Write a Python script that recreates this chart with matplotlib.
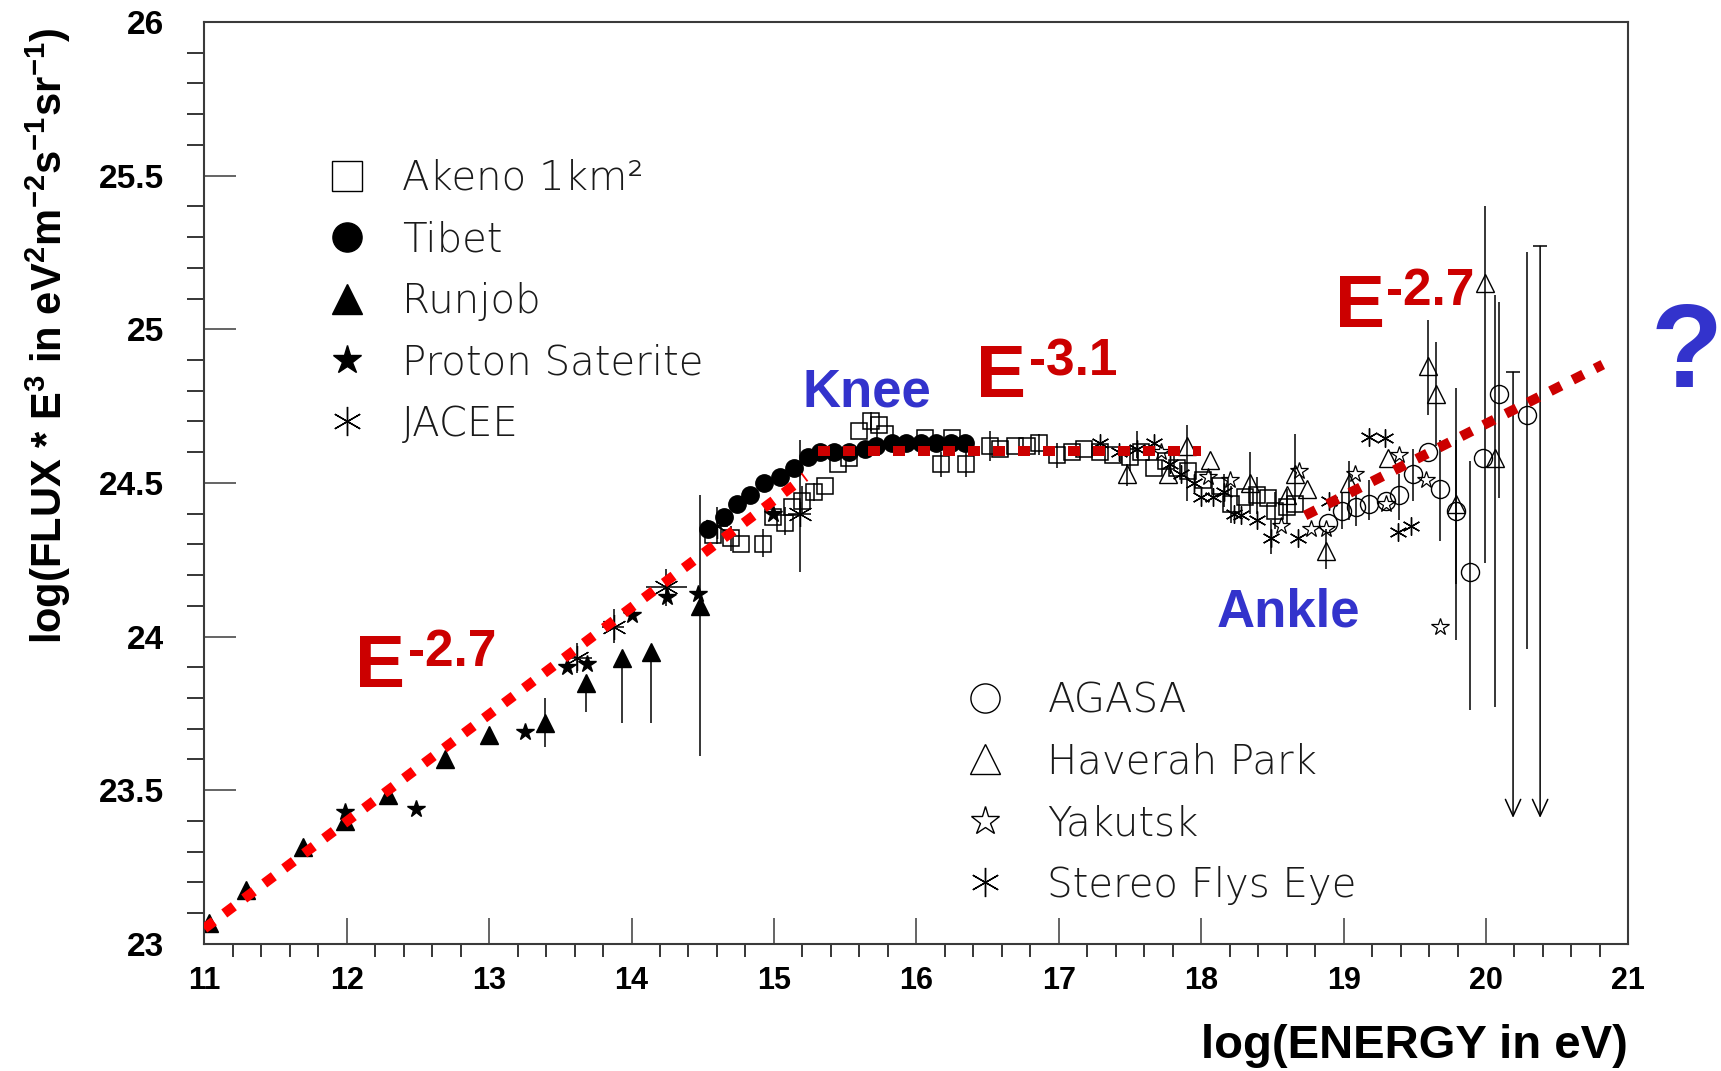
import numpy as np
import matplotlib
matplotlib.use("Agg")
import matplotlib.pyplot as plt
from matplotlib.ticker import MultipleLocator

plt.rcParams['font.family'] = ['Liberation Sans', 'DejaVu Sans']
plt.rcParams['mathtext.fontset'] = 'custom'
plt.rcParams['mathtext.rm'] = 'Liberation Sans:bold'
plt.rcParams['mathtext.it'] = 'Liberation Sans:bold'
plt.rcParams['mathtext.bf'] = 'Liberation Sans:bold'
plt.rcParams['mathtext.default'] = 'rm'

# ---- measurements: log10(E/eV), log10(flux * E^3) ----
akeno_x = [14.57, 14.70, 14.77, 14.92, 14.99, 15.08, 15.13, 15.20, 15.28, 15.36, 15.45, 15.53,
           15.60, 15.68, 15.74, 15.78, 16.06, 16.17, 16.25, 16.35, 16.52, 16.59, 16.69, 16.78,
           16.86, 16.99, 17.09, 17.18, 17.29, 17.38, 17.50, 17.58, 17.67, 17.75, 17.83, 17.91,
           18.01, 18.13, 18.21, 18.31, 18.39, 18.47, 18.52, 18.60, 18.66]
akeno_y = [24.33, 24.32, 24.30, 24.30, 24.39, 24.37, 24.42, 24.44, 24.47, 24.49, 24.56, 24.58,
           24.67, 24.70, 24.69, 24.66, 24.645, 24.56, 24.645, 24.56, 24.62, 24.61, 24.62, 24.62,
           24.63, 24.59, 24.60, 24.61, 24.60, 24.59, 24.585, 24.60, 24.55, 24.57, 24.55, 24.54,
           24.51, 24.49, 24.43, 24.455, 24.46, 24.45, 24.41, 24.42, 24.43]
akeno_err_x = [14.70, 14.92, 15.08, 15.20, 15.28, 15.68, 16.17, 16.35, 16.52, 16.86, 16.99,
               17.50, 18.21, 18.39, 18.52, 18.60]
akeno_err_lo = [24.28, 24.26, 24.33, 24.40, 24.44, 24.67, 24.52, 24.52, 24.57, 24.59, 24.55,
                24.54, 24.37, 24.40, 24.35, 24.37]
akeno_err_hi = [24.36, 24.35, 24.42, 24.49, 24.50, 24.73, 24.60, 24.61, 24.67, 24.66, 24.63,
                24.62, 24.49, 24.52, 24.47, 24.48]

tibet_x = [14.54, 14.65, 14.74, 14.83, 14.93, 15.04, 15.14, 15.24, 15.32, 15.42, 15.53, 15.64,
           15.72, 15.83, 15.93, 16.03, 16.14, 16.24, 16.34]
tibet_y = [24.35, 24.39, 24.43, 24.46, 24.50, 24.52, 24.55, 24.585, 24.60, 24.60, 24.60, 24.61,
           24.62, 24.63, 24.63, 24.63, 24.63, 24.63, 24.63]

runjob_x = [11.03, 11.29, 11.69, 11.99, 12.29, 12.69, 13.00, 13.395, 13.68, 13.93, 14.14, 14.48]
runjob_y = [23.067, 23.175, 23.316, 23.40, 23.485, 23.60, 23.68, 23.72, 23.848, 23.93, 23.95, 24.10]
runjob_err_x = [13.395, 13.68, 13.93, 14.14, 14.48]
runjob_err_lo = [23.64, 23.756, 23.72, 23.72, 23.61]
runjob_err_hi = [23.80, 23.86, 23.95, 23.96, 24.46]

proton_x = [11.99, 12.49, 13.25, 13.55, 13.69, 14.00, 14.25, 14.47, 14.99]
proton_y = [23.43, 23.44, 23.69, 23.90, 23.91, 24.07, 24.13, 24.14, 24.40]

jacee_x = [13.62, 13.88, 14.24, 14.60, 15.18]
jacee_y = [23.93, 24.03, 24.16, 24.36, 24.40]
jacee_xlo = [13.55, 13.79, 14.10, 14.52, 15.10]
jacee_xhi = [13.72, 13.95, 14.39, 14.68, 15.26]
jacee_ylo = [23.88, 23.98, 24.10, 24.30, 24.21]
jacee_yhi = [23.98, 24.09, 24.22, 24.42, 24.64]

agasa_x = [18.89, 18.99, 19.09, 19.18, 19.30, 19.39, 19.49, 19.59, 19.68, 19.79, 19.89, 19.98,
           20.09, 20.29]
agasa_y = [24.37, 24.41, 24.42, 24.43, 24.44, 24.46, 24.53, 24.60, 24.48, 24.41, 24.21, 24.58,
           24.79, 24.72]
agasa_err_x = [18.99, 19.09, 19.18, 19.39, 19.49, 19.68, 19.79, 19.89, 20.09, 20.29]
agasa_err_lo = [24.35, 24.36, 24.38, 24.38, 24.44, 24.31, 24.17, 23.76, 24.45, 23.96]
agasa_err_hi = [24.47, 24.49, 24.51, 24.53, 24.61, 24.64, 24.64, 24.57, 25.09, 25.25]

haverah_x = [17.48, 17.77, 17.90, 18.06, 18.34, 18.60, 18.66, 18.74, 18.88, 19.04, 19.31, 19.59,
             19.65, 19.79, 19.99, 20.06]
haverah_y = [24.53, 24.53, 24.62, 24.575, 24.50, 24.46, 24.53, 24.48, 24.28, 24.50, 24.58, 24.88,
             24.79, 24.43, 25.15, 24.58]
haverah_err_x = [17.48, 17.90, 18.34, 18.66, 18.88, 19.04, 19.59, 19.65, 19.79, 19.99, 20.06]
haverah_err_lo = [24.49, 24.44, 24.40, 24.43, 24.22, 24.38, 24.72, 24.62, 23.99, 24.24, 23.77]
haverah_err_hi = [24.56, 24.69, 24.60, 24.66, 24.35, 24.57, 25.03, 24.96, 24.81, 25.40, 25.11]

# upper limits (arrows)
ul_x = [20.19, 20.38]
ul_top = [24.86, 25.27]
ul_bottom = [23.41, 23.41]

yakutsk_x = [17.72, 18.05, 18.20, 18.56, 18.69, 18.77, 18.88, 19.08, 19.30, 19.39, 19.58, 19.68]
yakutsk_y = [24.60, 24.52, 24.51, 24.36, 24.54, 24.35, 24.35, 24.53, 24.43, 24.59, 24.51, 24.03]

flyseye_x = [17.29, 17.42, 17.55, 17.67, 17.78, 17.86, 17.95, 18.00, 18.08, 18.16, 18.23, 18.28,
             18.39, 18.49, 18.68, 18.90, 19.18, 19.29, 19.38, 19.47]
flyseye_y = [24.63, 24.60, 24.61, 24.63, 24.56, 24.53, 24.50, 24.455, 24.455, 24.47, 24.40, 24.395,
             24.38, 24.32, 24.32, 24.44, 24.65, 24.645, 24.34, 24.36]
flyseye_err_x = [17.55, 18.16, 18.49]
flyseye_err_lo = [24.58, 24.42, 24.27]
flyseye_err_hi = [24.67, 24.53, 24.38]

# spectral index guides
line1_x = [11.0, 15.22]
line1_y = [23.05, 24.52]
line2_x = [15.31, 18.0]
line2_y = [24.605, 24.605]
line3_x = [18.73, 20.82]
line3_y = [24.394, 24.885]

ytick_vals = [23, 23.5, 24, 24.5, 25, 25.5, 26]
ytick_labels = ['23', '23.5', '24', '24.5', '25', '25.5', '26']
xtick_vals = list(range(11, 22))

legend1_labels = ['Akeno 1km\u00b2', 'Tibet', 'Runjob', 'Proton Saterite', 'JACEE']
legend1_y = [25.5, 25.3, 25.1, 24.9, 24.7]
legend2_labels = ['AGASA', 'Haverah Park', 'Yakutsk', 'Stereo Flys Eye']
legend2_y = [23.80, 23.60, 23.40, 23.20]

fig = plt.figure(figsize=(17.21, 10.71), dpi=100)
ax = fig.add_axes([0.1187, 0.1187, 0.8275, 0.8608])
ax.set_xlim(11, 21)
ax.set_ylim(23, 26)

frame = '#3a3a3a'
for s in ax.spines.values():
    s.set_color(frame)
    s.set_linewidth(1.5)

ax.set_xticks(xtick_vals)
ax.set_xticklabels([str(v) for v in xtick_vals])
ax.set_yticks(ytick_vals)
ax.set_yticklabels(ytick_labels)
ax.xaxis.set_minor_locator(MultipleLocator(0.2))
ax.yaxis.set_minor_locator(MultipleLocator(0.1))
ax.tick_params(direction='in', top=False, right=False, colors=frame, labelcolor='black')
ax.tick_params(axis='x', which='major', length=19, width=1.1, pad=16)
ax.tick_params(axis='x', which='minor', length=9.5, width=1.1)
ax.tick_params(axis='y', which='major', length=23, width=1.1, pad=29)
ax.tick_params(axis='y', which='minor', length=12, width=1.1)
for lab in ax.get_xticklabels():
    lab.set_fontsize(22)
    lab.set_fontweight('bold')
for lab in ax.get_yticklabels():
    lab.set_fontsize(24)
    lab.set_fontweight('bold')

# error bars
elw = 1.1
ax.vlines(akeno_err_x, akeno_err_lo, akeno_err_hi, color='k', lw=elw)
ax.vlines(runjob_err_x, runjob_err_lo, runjob_err_hi, color='k', lw=elw)
ax.vlines(jacee_x, jacee_ylo, jacee_yhi, color='k', lw=elw)
ax.hlines(jacee_y, jacee_xlo, jacee_xhi, color='k', lw=elw)
ax.vlines(agasa_err_x, agasa_err_lo, agasa_err_hi, color='k', lw=elw)
ax.vlines(haverah_err_x, haverah_err_lo, haverah_err_hi, color='k', lw=elw)
ax.vlines(flyseye_err_x, flyseye_err_lo, flyseye_err_hi, color='k', lw=elw)

for x, top, bot in zip(ul_x, ul_top, ul_bottom):
    ax.annotate('', xy=(x, bot), xytext=(x, top),
                arrowprops=dict(arrowstyle='->,head_length=1.2,head_width=0.55',
                                color='k', lw=1.1, shrinkA=0, shrinkB=0))
ax.hlines(ul_top, np.array(ul_x) - 0.05, np.array(ul_x) + 0.05, color='k', lw=elw)

# data points
asterisk = (6, 2, 0)
ax.plot(akeno_x, akeno_y, 's', ms=11.5, mfc='none', mec='k', mew=1.1, ls='none')
ax.plot(tibet_x, tibet_y, 'o', ms=12.5, mfc='k', mec='k', ls='none')
ax.plot(runjob_x, runjob_y, '^', ms=12.5, mfc='k', mec='k', ls='none')
ax.plot(proton_x, proton_y, '*', ms=13, mfc='k', mec='k', ls='none')
ax.plot(jacee_x, jacee_y, marker=asterisk, ms=18, mec='k', mew=0.9, ls='none')
ax.plot(agasa_x, agasa_y, 'o', ms=13, mfc='none', mec='k', mew=1.0, ls='none')
ax.plot(haverah_x, haverah_y, '^', ms=13, mfc='none', mec='k', mew=1.0, ls='none')
ax.plot(yakutsk_x, yakutsk_y, '*', ms=13, mfc='none', mec='k', mew=0.9, ls='none')
ax.plot(flyseye_x, flyseye_y, marker=asterisk, ms=13, mec='k', mew=1.0, ls='none')

# power law guides
dots = (0, (1.2, 1.3))
ax.plot(line1_x, line1_y, color='#ff0000', lw=7.2, ls=dots, zorder=6)
ax.plot(line2_x, line2_y, color='#cc0000', lw=7.2, ls=dots, zorder=6)
ax.plot(line3_x, line3_y, color='#cc0000', lw=7.2, ls=dots, zorder=6)

# legends drawn inside the frame
leg_font = dict(family=['DejaVu Sans'], fontweight='light', fontsize=29, color='#1a1a1a')
leg1_markers = [dict(marker='s', mfc='none', mew=1.0), dict(marker='o', mfc='k'),
                dict(marker='^', mfc='k'), dict(marker='*', mfc='k'),
                dict(marker=asterisk, mew=1.0)]
for y, lab, mk in zip(legend1_y, legend1_labels, leg1_markers):
    ax.plot([12.0], [y], ls='none', ms=21, mec='k', **mk)
    ax.text(12.39, y - 0.046, lab, va='baseline', ha='left', **leg_font)

leg2_markers = [dict(marker='o', mfc='none', mew=1.0), dict(marker='^', mfc='none', mew=1.0),
                dict(marker='*', mfc='none', mew=1.0), dict(marker=asterisk, mew=1.0)]
for y, lab, mk in zip(legend2_y, legend2_labels, leg2_markers):
    ax.plot([16.48], [y], ls='none', ms=21, mec='k', **mk)
    ax.text(16.92, y - 0.046, lab, va='baseline', ha='left', **leg_font)

# annotations
red = '#cc0000'
blue = '#3333cc'
big = dict(color=red, fontsize=54, fontweight='bold', va='baseline', ha='left')
sup = dict(color=red, fontsize=37, fontweight='bold', va='baseline', ha='left')
ax.text(12.055, 23.837, 'E', **big)
ax.text(12.433, 23.904, '-2.7', **sup)
ax.text(16.42, 24.78, 'E', **big)
ax.text(16.79, 24.848, '-3.1', **sup)
ax.text(18.94, 25.008, 'E', **big)
ax.text(19.30, 25.079, '-2.7', **sup)
ax.text(15.20, 24.748, 'Knee', color=blue, fontsize=38, fontweight='bold', va='baseline')
ax.text(18.11, 24.032, 'Ankle', color=blue, fontsize=38, fontweight='bold', va='baseline')
fig.text(0.980, 0.639, '?', color=blue, fontsize=85, fontweight='bold', ha='center', va='baseline')

fig.text(0.946, 0.012, 'log(ENERGY in eV)', fontsize=34, fontweight='bold', ha='right', va='baseline')
fig.text(0.028, 0.686, 'log(FLUX * E$^{3}$ in eV$^{2}$m$^{-2}$s$^{-1}$sr$^{-1}$)',
         fontsize=30, fontweight='bold', rotation=90, ha='center', va='center')

fig.savefig('out.png', dpi=100)
